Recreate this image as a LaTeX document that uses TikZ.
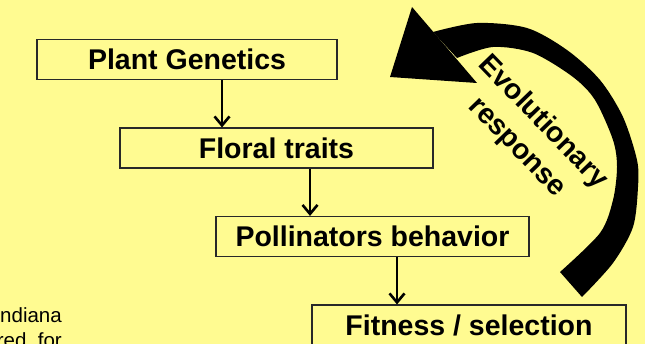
\documentclass[tikz,border=0pt]{standalone}
\usepackage{fontspec}
\setmainfont{Liberation Sans}
\usetikzlibrary{arrows.meta}
\definecolor{myyellow}{RGB}{255,251,145}
\definecolor{mygray}{RGB}{40,40,40}
\tikzset{stage/.style={draw=mygray, line width=1.1pt, minimum height=40pt, inner sep=0pt,
    font=\fontsize{28.5}{33}\selectfont\bfseries},
  flow/.style={black, line width=2.6pt, -{Straight Barb[length=9pt,width=15pt]}}}

\begin{document}
\begin{tikzpicture}[x=1pt,y=-1pt]
		\fill[myyellow] (0,0) rectangle (645,344);
		\clip (0,0) rectangle (645,344);
		
		\node[stage, minimum width=300pt] (pg) at (187,59.5) {Plant Genetics};
		\node[stage, minimum width=313pt] (ft) at (276.5,148) {Floral traits};
		\node[stage, minimum width=313pt] (pb) at (372.5,236.5) {Pollinators behavior};
		\node[stage, minimum width=314pt] (fs) at (469,325) {Fitness / selection};
		
		\draw[flow] ([xshift=35pt]pg.south) -- ([xshift=35pt]pg.south |- ft.north);
		\draw[flow] ([xshift=33.5pt]ft.south) -- ([xshift=33.5pt]ft.south |- pb.north);
		\draw[flow] ([xshift=24.5pt]pb.south) -- ([xshift=24.5pt]pb.south |- fs.north);
		
		%Evolutionary response
		\fill[black] plot[smooth] coordinates {(433,32) (477,23) (527,28) (567,50) (600,80) (623,117) (637,160) (638,187) (633,227) (613,263) (582,297)}
		-- plot[smooth] coordinates {(560,272) (600,233) (613,200) (617,167) (613,140) (595,100) (573,77) (533,53) (493,47) (457,58)} -- cycle;
		\fill[black] (412,7) -- (390,77) -- (477,83) -- cycle;
		\node[rotate=-46, align=center, inner sep=0pt, font=\fontsize{28.5}{36}\selectfont\bfseries] (evo) at (530,135) {Evolutionary\\response};
		
		%cut text at the left
		\node[anchor=base east, inner sep=0pt, font=\fontsize{20.5}{24}\selectfont] (nd) at (62,323) {ndiana};
		\node[anchor=base east, inner sep=0pt, font=\fontsize{20.5}{24}\selectfont] (rf) at (62,348) {red\ \ for};
		
	\end{tikzpicture}
\end{document}
